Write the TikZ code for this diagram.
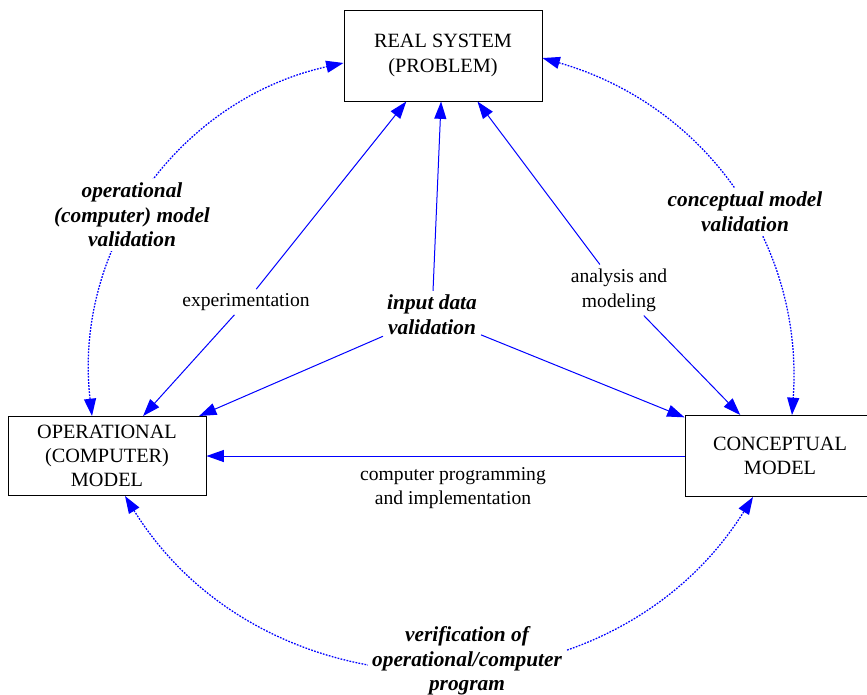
\documentclass[tikz,border=0pt]{standalone}
\usepackage{fontspec}
\setmainfont{Liberation Serif}
\usetikzlibrary{arrows.meta}
\tikzstyle{block} = [draw, fill=white, rectangle, line width=0.75pt,
    align=center, inner sep=0pt, font=\fontsize{15.2}{18.2}\selectfont]
\tikzstyle{activity} = [align=center, inner sep=3pt,
    font=\fontsize{14.7}{18.5}\selectfont]
\tikzstyle{check} = [align=center, inner sep=3pt,
    font=\fontsize{16}{18.5}\selectfont\bfseries\itshape]
\tikzstyle{link} = [color=blue, line width=0.75pt]
\tikzstyle{validation} = [color=blue, line width=0.95pt, dash pattern=on 1.3pt off 1pt]

\begin{document}
\begin{tikzpicture}[x=0.75pt, y=-0.75pt, >={Triangle[length=13pt,width=9pt]}]
    \useasboundingbox (0,0) rectangle (867,694);
    % We start by placing the three models
    \node [block, minimum width=148.5pt, minimum height=68.25pt] (real) at (443,55.5)
        {REAL SYSTEM\\(PROBLEM)};
    \node [block, minimum width=148.5pt, minimum height=59.25pt] (oper) at (107,456)
        {OPERATIONAL\\(COMPUTER)\\MODEL};
    \node [block, minimum width=142.5pt, minimum height=60.75pt] (concept) at (780,456)
        {CONCEPTUAL\\MODEL};

    % The dotted validation loops go round the outside; their labels
    % are placed afterwards with a white fill so they cut the curves.
    \draw [validation, <->] ([xshift=-11.25pt]oper.north) to[bend left=42]
        ([yshift=-5.6pt]real.west);
    \draw [validation, <->] ([yshift=-1.9pt]real.east) to[bend left=39]
        ([xshift=9pt]concept.north);
    \draw [validation, <->] ([xshift=13.5pt]oper.south) to[bend right=58, looseness=1.1]
        ([xshift=-20.25pt]concept.south);
    \node [check, fill=white] (opval) at (132,215)
        {operational\\(computer) model\\validation};
    \node [check, fill=white] (conval) at (745,212)
        {conceptual model\\validation};
    \node [check, fill=white] (verif) at (467,661)
        {verification of\\operational/computer\\program};

    % Activities between the models
    \node [activity] (expt) at (246,302) {experimentation};
    \node [check] (idv) at (432,315) {input data\\validation};
    \node [activity] (anmod) at (619,290) {analysis and\\modeling};
    \node [activity] (prog) at (453,488) {computer programming\\and implementation};

    % Once the nodes are placed, connecting them is easy.
    \draw [link, ->] (expt) -- (real);
    \draw [link, ->] (expt) -- (oper);
    \draw [link, ->] (idv) -- (real);
    \draw [link, ->] (idv) -- (oper);
    \draw [link, ->] (idv) -- (concept);
    \draw [link, ->] (anmod) -- (real);
    \draw [link, ->] (anmod) -- (concept);
    \draw [link, ->] (concept) -- (oper);
\end{tikzpicture}
\end{document}
